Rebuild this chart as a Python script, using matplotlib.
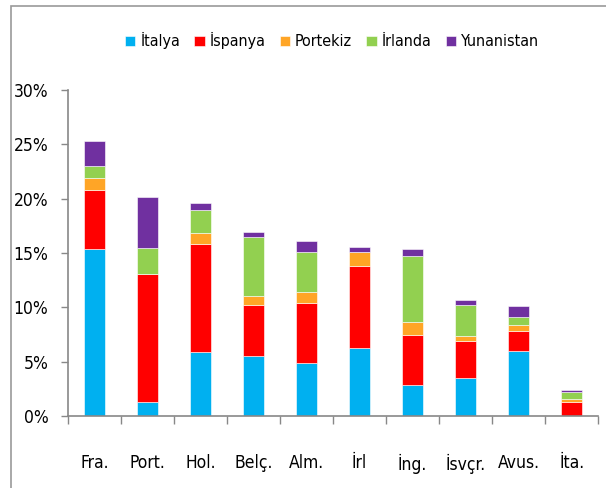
import numpy as np
import matplotlib.pyplot as plt
from matplotlib.patches import Rectangle
from matplotlib.ticker import FuncFormatter

plt.rcParams['font.family'] = ['DejaVu Sans']
plt.rcParams['font.stretch'] = 'condensed'

countries = ["Fra.", "Port.", "Hol.", "Belç.", "Alm.", "İrl", "İng.", "İsvçr.", "Avus.", "İta."]
series = ["İtalya", "İspanya", "Portekiz", "İrlanda", "Yunanistan"]
colors = ["#00B0F0", "#FF0000", "#FFA526", "#92D050", "#7030A0"]

italya = [15.4, 1.3, 5.85, 5.55, 4.9, 6.3, 2.85, 3.5, 6.0, 0.0]
ispanya = [5.4, 11.8, 10.0, 4.65, 5.5, 7.5, 4.65, 3.4, 1.85, 1.25]
portekiz = [1.1, 0.0, 0.95, 0.8, 1.05, 1.25, 1.15, 0.5, 0.5, 0.35]
irlanda = [1.1, 2.4, 2.2, 5.45, 3.6, 0.0, 6.1, 2.8, 0.75, 0.65]
yunanistan = [2.35, 4.7, 0.65, 0.5, 1.1, 0.5, 0.6, 0.45, 1.0, 0.15]

data = [italya, ispanya, portekiz, irlanda, yunanistan]

fig = plt.figure(figsize=(6.06, 4.88), dpi=100)
ax = fig.add_axes([0.112, 0.1475, 0.875, 0.668])

x = np.arange(len(countries))
bottom = np.zeros(len(countries))
for vals, name, c in zip(data, series, colors):
    ax.bar(x, vals, 0.41, bottom=bottom, color=c, label=name,
           edgecolor="white", linewidth=0.4)
    bottom += np.array(vals)

ax.set_xlim(-0.5, len(countries) - 0.5)
ax.set_ylim(0, 30)
ax.set_yticks(np.arange(0, 31, 5))
ax.yaxis.set_major_formatter(FuncFormatter(lambda v, p: f"{v:.0f}%"))
ax.set_xticks(x)
ax.set_xticklabels(countries)
ax.set_xticks(np.arange(-0.5, len(countries)), minor=True)
ax.tick_params(axis="x", which="major", length=0, pad=27, labelsize=12.5)
ax.tick_params(axis="x", which="minor", length=6, color="#888888", width=1)
ax.tick_params(axis="y", length=5, color="#888888", width=1, pad=9, labelsize=12.5)

for s in ["top", "right"]:
    ax.spines[s].set_visible(False)
for s in ["left", "bottom"]:
    ax.spines[s].set_color("#888888")
    ax.spines[s].set_linewidth(1.2)

fig.legend(loc="center", bbox_to_anchor=(0.548, 0.916), ncol=5, frameon=False,
           fontsize=11.5, handlelength=0.65, handleheight=0.65, handletextpad=0.3,
           columnspacing=0.9)

fig.patches.append(Rectangle((11 / 606, -0.1), 1.2, (488 - 6) / 488 + 0.1,
                             transform=fig.transFigure, fill=False,
                             edgecolor="#999999", linewidth=1.2))

fig.savefig("out.png", dpi=100)
